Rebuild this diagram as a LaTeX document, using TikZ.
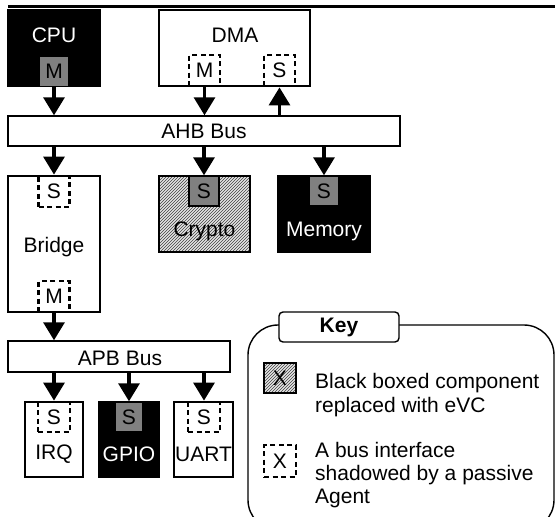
\documentclass[tikz,border=0pt]{standalone}
\usepackage{fontspec}
\setmainfont{Liberation Sans}
\usetikzlibrary{arrows.meta,patterns}

\tikzset{
  unit/.style={draw, line width=1.4pt, fill=white, inner sep=0pt},
  blackunit/.style={unit, fill=black},
  hatchunit/.style={draw, line width=1.4pt, inner sep=0pt, preaction={fill=gray!20}, pattern=north east lines, pattern color=black!75},
  port/.style={draw, line width=1.4pt, fill=gray, inner sep=0pt, minimum width=29, minimum height=30},
  shadowport/.style={draw, line width=2.8pt, dash pattern=on 5pt off 3.5pt, inner sep=0pt, minimum width=31, minimum height=31},
  busarrow/.style={line width=3.2pt, -{Triangle[width=21pt,length=18pt]}},
}

\begin{document}
\begin{tikzpicture}[x=1pt, y=-1pt, every node/.style={font=\fontsize{21pt}{24pt}\selectfont}]
    \useasboundingbox (0,0) rectangle (555,517);
    \draw[line width=3pt] (8,6) -- (555,6);

    % masters
    \node[blackunit, minimum width=92, minimum height=76] (cpu) at (54,48) {};
    \node[text=white] (cpuname) at (54,35.5) {CPU};
    \node[port] (cpuM) at (54,71.5) {M};
    \node[unit, minimum width=151, minimum height=76] (dma) at (234.5,48) {};
    \node (dmaname) at (235,35.5) {DMA};
    \node[shadowport] (dmaM) at (204.5,70.5) {M};
    \node[shadowport] (dmaS) at (279.5,70.5) {S};

    % AHB bus
    \node[unit, minimum width=392, minimum height=30] (ahb) at (204,131) {AHB Bus};
    \draw[busarrow] (cpuM.south) -- (cpuM.south |- ahb.north);
    \draw[busarrow] (dmaM.south) -- (dmaM.south |- ahb.north);
    \draw[busarrow] (dmaS.south |- ahb.north) -- (dmaS.south);

    % AHB slaves
    \node[unit, minimum width=92, minimum height=136] (bridge) at (54,244) {};
    \node[anchor=base] (bridgename) at (54,252) {Bridge};
    \node[shadowport] (bridgeS) at (54,191.5) {S};
    \node[shadowport] (bridgeM) at (54,296.5) {M};
    \node[hatchunit, minimum width=91, minimum height=76] (crypto) at (204.5,214) {};
    \node[anchor=base] (cryptoname) at (204.5,236) {Crypto};
    \node[port, minimum width=30] (cryptoS) at (204,191) {S};
    \node[blackunit, minimum width=92, minimum height=76] (mem) at (324,214) {};
    \node[anchor=base, text=white] (memname) at (324,236) {Memory};
    \node[port, draw=black] (memS) at (324,191) {S};
    \draw[busarrow] (bridgeS.north |- ahb.south) -- (bridgeS.north);
    \draw[busarrow] (cryptoS.north |- ahb.south) -- (cryptoS.north);
    \draw[busarrow] (memS.north |- ahb.south) -- (memS.north);

    % APB bus
    \node[unit, minimum width=222, minimum height=31] (apb) at (119,356.5) {};
    \node (apbname) at (120,358.5) {APB Bus};
    \draw[busarrow] (bridgeM.south) -- (bridgeM.south |- apb.north);

    % APB slaves
    \node[unit, minimum width=58, minimum height=75] (irq) at (54,439.5) {};
    \node (irqname) at (54,454.5) {IRQ};
    \node[shadowport, minimum width=32, minimum height=30] (irqS) at (54,417) {S};
    \node[blackunit, minimum width=60, minimum height=75] (gpio) at (129,439.5) {};
    \node[text=white] (gpioname) at (129,454.5) {GPIO};
    \node[port, minimum width=28] (gpioS) at (129,417) {S};
    \node[unit, minimum width=59, minimum height=75] (uart) at (203.5,439.5) {};
    \node (uartname) at (203.5,454.5) {UART};
    \node[shadowport, minimum width=32, minimum height=30] (uartS) at (204,417) {S};
    \draw[busarrow] (irqS.north |- apb.south) -- (irqS.north);
    \draw[busarrow] (gpioS.north |- apb.south) -- (gpioS.north);
    \draw[busarrow] (uartS.north |- apb.south) -- (uartS.north);

    % key
    \node[draw, line width=1.4pt, rounded corners=30pt, minimum width=306, minimum height=205] (keyframe) at (401,427.5) {};
    \node[draw, line width=1.4pt, fill=white, rounded corners=4pt, inner sep=0pt, minimum width=120, minimum height=30, font=\fontsize{21pt}{24pt}\selectfont\bfseries] (keytitle) at (339,327) {Key};
    \node[hatchunit, minimum width=32, minimum height=30] (keyhatch) at (280,378) {X};
    \node[anchor=north west, align=left, inner sep=0pt] (keyhatchtext) at (315,373) {Black boxed component\\replaced with eVC};
    \node[shadowport, minimum width=32, minimum height=32] (keyshadow) at (280,461) {X};
    \node[anchor=north west, align=left, inner sep=0pt, font=\fontsize{21pt}{23pt}\selectfont] (keyshadowtext) at (315,442) {A bus interface\\shadowed by a passive\\Agent};
\end{tikzpicture}
\end{document}
